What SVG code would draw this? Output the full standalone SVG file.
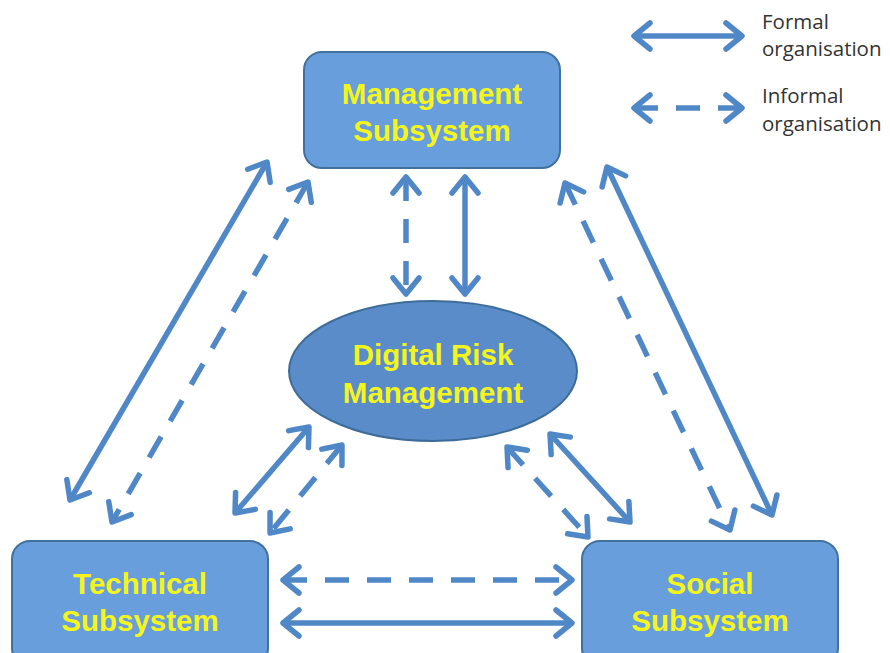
<svg xmlns="http://www.w3.org/2000/svg" width="890" height="653" viewBox="0 0 890 653">
<style>
.box{fill:#689edb;stroke:#41719c;stroke-width:2}
.ell{fill:#5a8cca;stroke:#3e6c99;stroke-width:2}
.lbl{font-family:"Liberation Sans",Arial,sans-serif;font-weight:bold;font-size:29.5px;fill:#f5f51c;text-anchor:middle}
.leg{font-family:"Open Sans","Liberation Sans",sans-serif;font-size:20.5px;fill:#333}
.c{stroke:#5088c7;stroke-width:5.5;fill:none;marker-start:url(#ah);marker-end:url(#ah)}
.d{stroke-dasharray:24 18}
</style>
<defs>
<marker id="ah" markerUnits="userSpaceOnUse" viewBox="-20 -15 24 30" refX="0" refY="0" markerWidth="24" markerHeight="30" orient="auto-start-reverse" overflow="visible">
<path d="M-16,-13 L0,0 L-16,13" fill="none" stroke="#5088c7" stroke-width="5.5" stroke-linecap="round" stroke-linejoin="round"/>
</marker>
</defs>
<g id="management">
<rect class="box" x="304" y="52" width="256" height="116" rx="18"/>
<text class="lbl" x="432" y="104">Management</text>
<text class="lbl" x="432" y="141">Subsystem</text>
</g>
<g id="drm">
<ellipse class="ell" cx="433" cy="371" rx="144" ry="70"/>
<text class="lbl" x="433" y="365">Digital Risk</text>
<text class="lbl" x="433" y="403">Management</text>
</g>
<g id="technical">
<rect class="box" x="12" y="541" width="256" height="125" rx="18"/>
<text class="lbl" x="140" y="594">Technical</text>
<text class="lbl" x="140" y="631">Subsystem</text>
</g>
<g id="social">
<rect class="box" x="582" y="541" width="256" height="125" rx="18"/>
<text class="lbl" x="710" y="594">Social</text>
<text class="lbl" x="710" y="631">Subsystem</text>
</g>
<g id="legend">
<line class="c" x1="634" y1="36" x2="742" y2="36"/>
<line class="c d" x1="634" y1="108" x2="742" y2="108"/>
<text class="leg" x="762" y="29">Formal</text>
<text class="leg" x="762" y="56">organisation</text>
<text class="leg" x="762" y="103">Informal</text>
<text class="leg" x="762" y="131">organisation</text>
</g>
<g id="connectors">
<line class="c d" x1="406" y1="177" x2="406" y2="294"/>
<line class="c" x1="465" y1="177" x2="465" y2="294"/>
<line class="c" x1="267" y1="162" x2="70" y2="500"/>
<line class="c d" x1="308" y1="182" x2="112" y2="522"/>
<line class="c" x1="607" y1="167" x2="772" y2="515"/>
<line class="c d" x1="565" y1="183" x2="730" y2="530"/>
<line class="c" x1="309" y1="427" x2="235" y2="513"/>
<line class="c d" x1="342" y1="445" x2="270" y2="533"/>
<line class="c" x1="550" y1="434" x2="630" y2="522"/>
<line class="c d" x1="507" y1="447" x2="588" y2="537"/>
<line class="c d" x1="283" y1="580" x2="572" y2="580"/>
<line class="c" x1="283" y1="623" x2="572" y2="623"/>
</g>
</svg>
